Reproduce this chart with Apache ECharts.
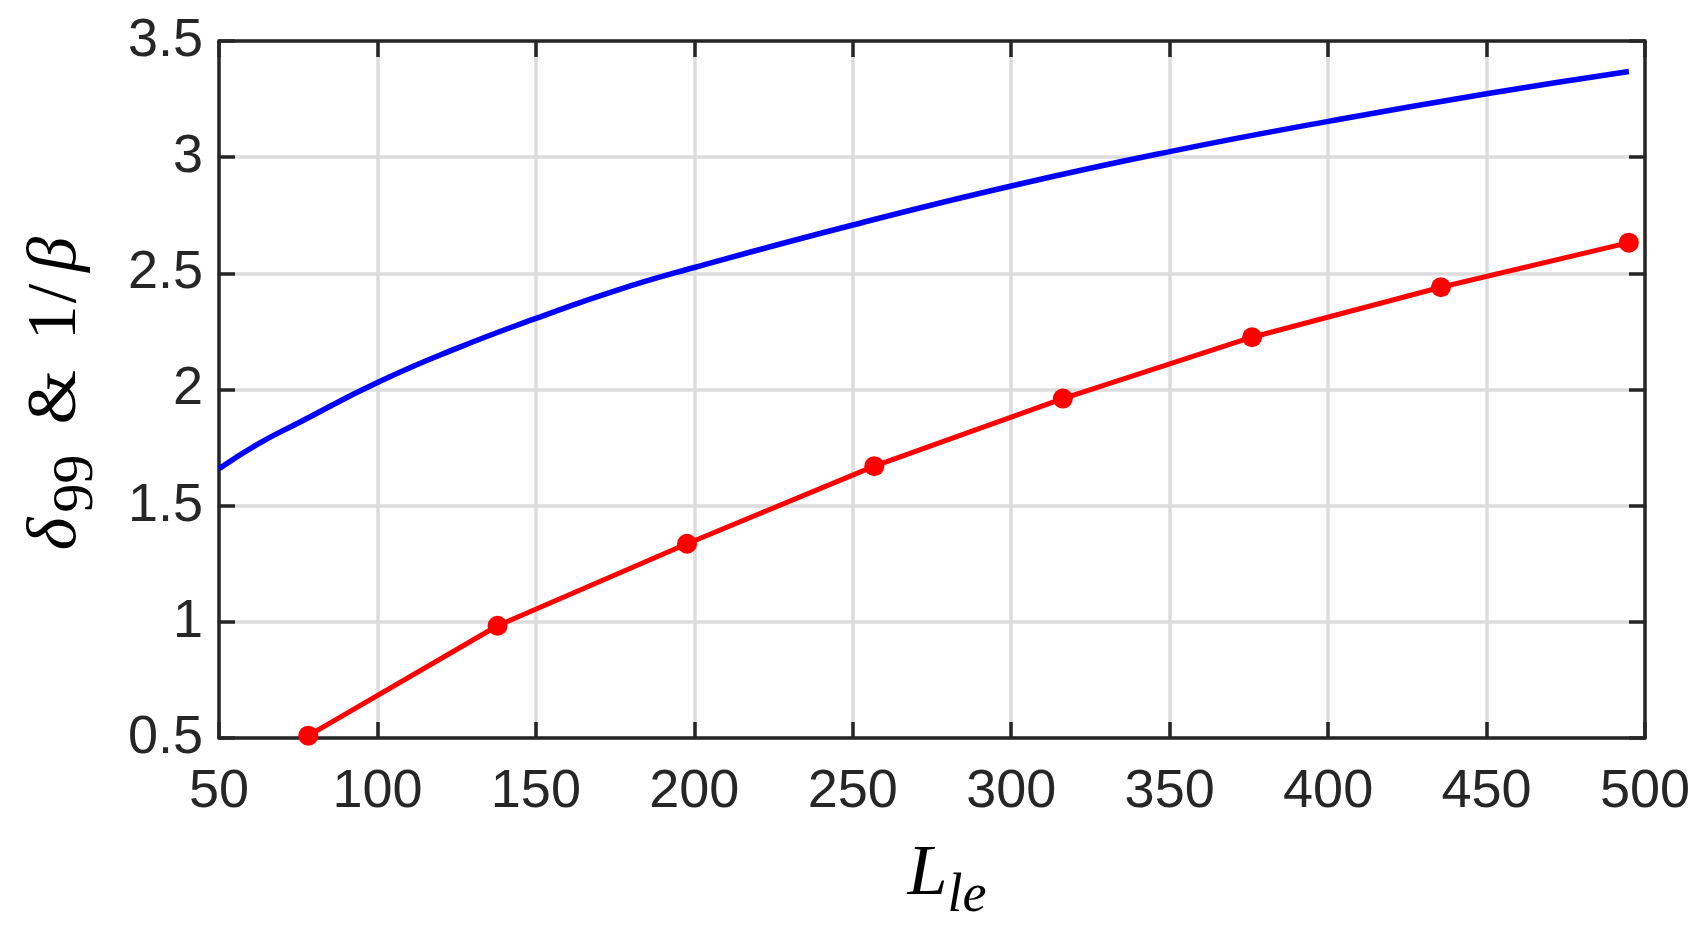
<!DOCTYPE html>
<html>
<head>
<meta charset="utf-8">
<script src="https://cdn.jsdelivr.net/npm/echarts@6/dist/echarts.min.js"></script>
<style>
  html, body { margin: 0; padding: 0; background: #fff; }
  #main { width: 1708px; height: 930px; }
</style>
</head>
<body>
<div id="main"></div>
<script>
// values
var blueX = [50, 62.5, 75, 100, 125, 150, 175, 200, 250, 300, 350, 400, 450, 494.9];
var blueY = [1.659, 1.767, 1.856, 2.030, 2.177, 2.306, 2.425, 2.525, 2.708, 2.876, 3.024, 3.154, 3.273, 3.369];
var redX = [78.2, 137.9, 197.7, 256.8, 316.3, 376.0, 435.6, 494.9];
var redY = [0.510, 0.983, 1.336, 1.670, 1.961, 2.225, 2.440, 2.632];
var xTicks = { min: 50, max: 500, interval: 50 };
var yTicks = { min: 0.5, max: 3.5, interval: 0.5 };

function pairs(xs, ys) {
  return xs.map(function (x, i) { return [x, ys[i]]; });
}

var dark = '#262626';
var serif = 'Liberation Serif';
var sans = 'Liberation Sans';

var chart = echarts.init(document.getElementById('main'));

var tickStyle = { show: true, inside: true, length: 16, lineStyle: { color: dark, width: 3.5 } };
var lineStyle = { show: true, lineStyle: { color: dark, width: 3.5 } };
var gridLine = { show: true, lineStyle: { color: '#dcdcdc', width: 3.5 } };

// text pieces of the axis titles
var ital = { fontFamily: serif, fontStyle: 'italic', color: '#000' };
var upright = { fontFamily: serif, color: '#000' };

var option = {
  animation: false,
  backgroundColor: '#fff',
  grid: { left: 218, right: 63, top: 41, bottom: 192 },
  xAxis: [
    {
      type: 'value',
      min: xTicks.min, max: xTicks.max, interval: xTicks.interval,
      axisLine: lineStyle,
      axisTick: tickStyle,
      axisLabel: { color: dark, fontSize: 54, fontFamily: sans, margin: 27 },
      splitLine: gridLine,
      name: '{m|L}{s|le}',
      nameLocation: 'middle',
      nameGap: 101,
      nameTextStyle: {
        rich: {
          m: Object.assign({ fontSize: 72, lineHeight: 72, padding: [0, 0, 0, 30] }, ital),
          s: Object.assign({ fontSize: 54, lineHeight: 54, padding: [44, 0, 0, 0] }, ital)
        }
      }
    },
    {
      type: 'value', position: 'top',
      min: xTicks.min, max: xTicks.max, interval: xTicks.interval,
      axisLine: lineStyle, axisTick: tickStyle,
      axisLabel: { show: false }, splitLine: { show: false }
    }
  ],
  yAxis: [
    {
      type: 'value',
      min: yTicks.min, max: yTicks.max, interval: yTicks.interval,
      axisLine: lineStyle,
      axisTick: tickStyle,
      axisLabel: { color: dark, fontSize: 54, fontFamily: sans, margin: 16 },
      splitLine: gridLine,
      name: '{d|δ}{s|99}{a|&}{one|1}{sl|/}{b|β}',
      nameLocation: 'middle',
      nameRotate: 90,
      nameGap: 127,
      nameTextStyle: {
        rich: {
          d: Object.assign({ fontSize: 70, lineHeight: 70 }, ital),
          s: Object.assign({ fontSize: 58, lineHeight: 58, padding: [40, 0, 0, 5] }, upright),
          a: Object.assign({ fontSize: 70, lineHeight: 70, padding: [0, 0, 0, 30] }, upright),
          one: Object.assign({ fontSize: 70, lineHeight: 70, padding: [0, 0, 0, 30] }, upright),
          sl: Object.assign({ fontSize: 70, lineHeight: 70, padding: [0, 0, 0, 2] }, upright),
          b: Object.assign({ fontSize: 70, lineHeight: 70, padding: [0, 8, 0, 12] }, ital)
        }
      }
    },
    {
      type: 'value', position: 'right',
      min: yTicks.min, max: yTicks.max, interval: yTicks.interval,
      axisLine: lineStyle, axisTick: tickStyle,
      axisLabel: { show: false }, splitLine: { show: false }
    }
  ],
  series: [
    {
      type: 'line',
      data: pairs(blueX, blueY),
      smooth: 0.5,
      showSymbol: false,
      lineStyle: { color: '#0000ff', width: 5.5 },
      itemStyle: { color: '#0000ff' }
    },
    {
      type: 'line',
      data: pairs(redX, redY),
      symbol: 'circle',
      symbolSize: 20,
      lineStyle: { color: '#ff0000', width: 5 },
      itemStyle: { color: '#ff0000' }
    }
  ]
};

chart.setOption(option);
window.addEventListener('resize', function () {
  chart.resize();
});
</script>
</body>
</html>
